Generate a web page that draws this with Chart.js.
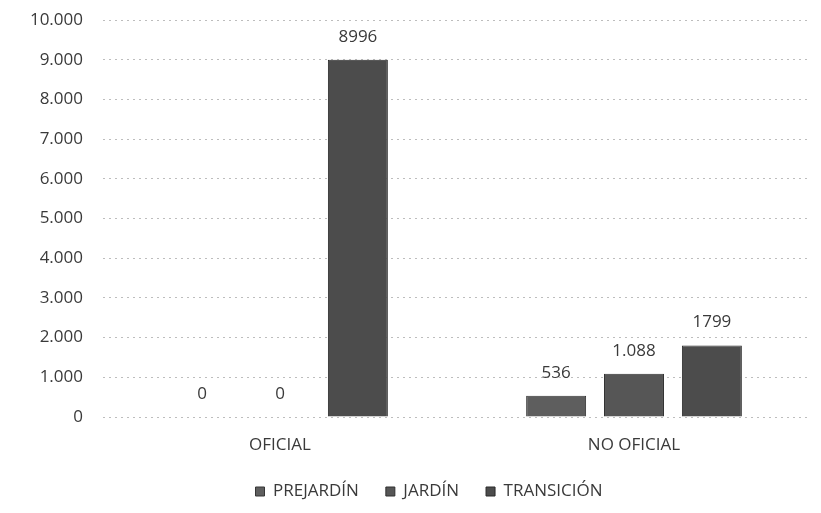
<!DOCTYPE html>
<html>
<head>
<meta charset="utf-8">
<script src="https://cdn.jsdelivr.net/npm/chart.js@4.4.0/dist/chart.umd.min.js"></script>
<style>
  body { margin: 0; background: #fff; }
  #wrap { width: 821px; height: 513px; }
</style>
</head>
<body>
<div id="wrap"><canvas id="canvas" width="821" height="513"></canvas></div>
<script>
// categorias y series
var sectores = ['OFICIAL', 'NO OFICIAL'];
var prejardin = [0, 536];
var jardin = [0, 1088];
var transicion = [8996, 1799];
// etiquetas tal como aparecen en el grafico
var etqPrejardin = ['0', '536'];
var etqJardin = ['0', '1.088'];
var etqTransicion = ['8996', '1799'];
var yMax = 10000;
var yPaso = 1000;

var fuente = "'Open Sans', 'Liberation Sans', sans-serif";

// dibuja el valor encima de cada barra
var etiquetasPlugin = {
    id: 'etiquetas',
    afterDatasetsDraw: function(chart) {
        var ctx = chart.ctx;
        ctx.save();
        ctx.font = '17px ' + fuente;
        ctx.fillStyle = '#3a3a3a';
        ctx.textAlign = 'center';
        ctx.textBaseline = 'middle';
        chart.data.datasets.forEach(function(ds, i) {
            var meta = chart.getDatasetMeta(i);
            meta.data.forEach(function(bar, j) {
                ctx.fillText(ds.etiquetas[j], bar.x, bar.y - 23);
            });
        });
        ctx.restore();
    }
};

// la leyenda va un poco corrida a la derecha
var moverLeyenda = {
    id: 'moverLeyenda',
    afterLayout: function(chart) {
        if (chart.legend) {
            chart.legend.left += 11;
            chart.legend.right += 11;
        }
    }
};

var ctx = document.getElementById('canvas').getContext('2d');
var grafico = new Chart(ctx, {
    type: 'bar',
    data: {
        labels: sectores,
        datasets: [{
            label: 'PREJARDÍN',
            data: prejardin,
            etiquetas: etqPrejardin,
            backgroundColor: '#5e5e5e',
            borderColor: '#363636',
            borderWidth: 1
        },
        {
            label: 'JARDÍN',
            data: jardin,
            etiquetas: etqJardin,
            backgroundColor: '#565656',
            borderColor: '#303030',
            borderWidth: 1
        },
        {
            label: 'TRANSICIÓN',
            data: transicion,
            etiquetas: etqTransicion,
            backgroundColor: '#4c4c4c',
            borderColor: '#2a2a2a',
            borderWidth: 1
        }]
    },
    options: {
        responsive: false,
        animation: false,
        layout: {
            padding: { top: 20, right: 10, bottom: 3, left: 25 }
        },
        datasets: {
            bar: {
                categoryPercentage: 0.66,
                barPercentage: 0.77
            }
        },
        plugins: {
            legend: {
                position: 'bottom',
                labels: {
                    boxWidth: 9,
                    boxHeight: 9,
                    padding: 27,
                    color: '#3a3a3a',
                    font: { family: fuente, size: 17 }
                }
            },
            tooltip: { enabled: false }
        },
        scales: {
            x: {
                grid: { display: false, drawTicks: false },
                border: { display: false },
                ticks: {
                    color: '#3a3a3a',
                    padding: 18,
                    font: { family: fuente, size: 17 }
                },
                afterFit: function(scale) { scale.height = 39; }
            },
            y: {
                min: 0,
                max: yMax,
                grid: {
                    color: '#bdbdbd',
                    drawTicks: false
                },
                border: { display: false, dash: [2, 4] },
                ticks: {
                    stepSize: yPaso,
                    color: '#3a3a3a',
                    padding: 20,
                    font: { family: fuente, size: 17 },
                    callback: function(v) {
                        return v.toString().replace(/\B(?=(\d{3})+(?!\d))/g, '.');
                    }
                },
                afterFit: function(scale) {
                    scale.width = 78;
                    scale.paddingTop = 0;
                    scale.paddingBottom = 0;
                }
            }
        }
    },
    plugins: [etiquetasPlugin, moverLeyenda]
});
</script>
</body>
</html>
